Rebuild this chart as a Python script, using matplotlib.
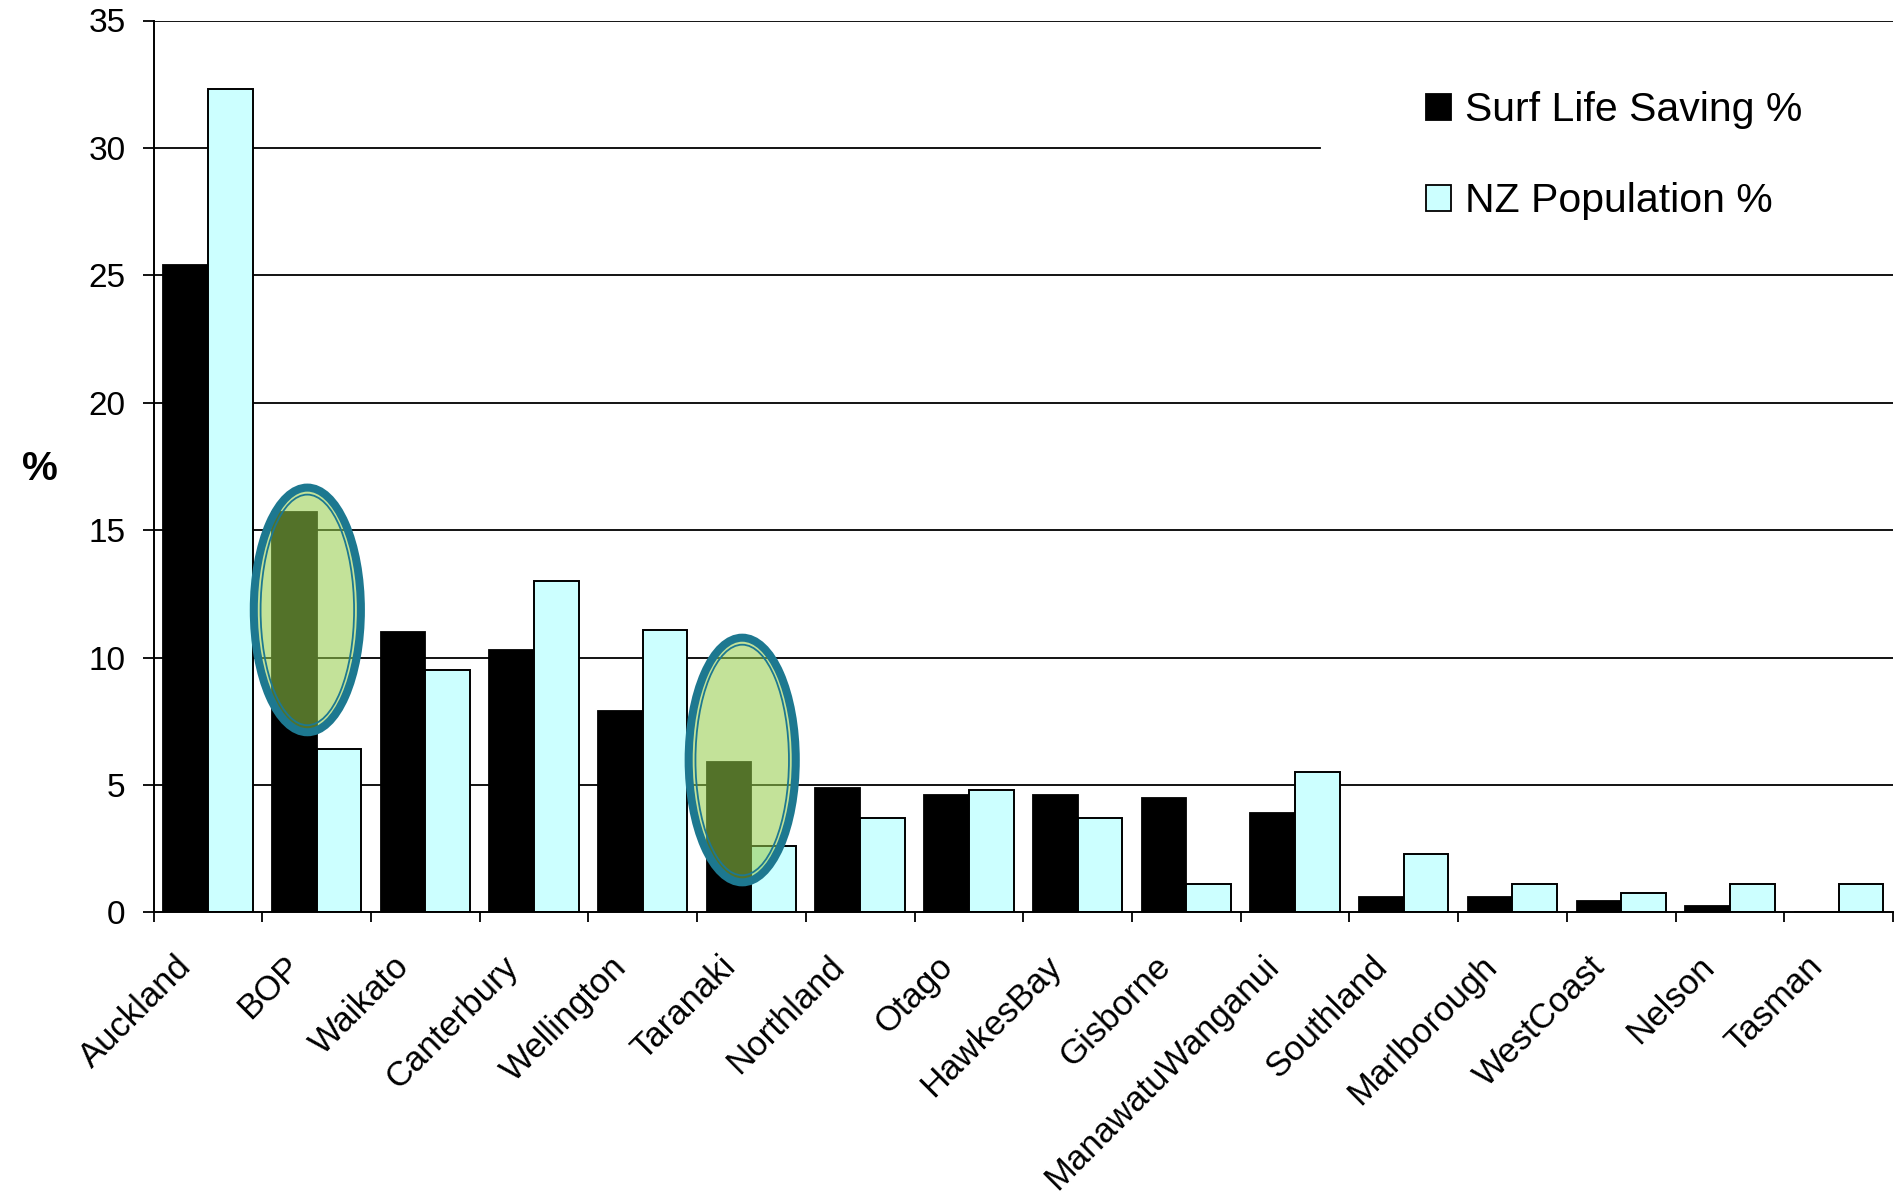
import matplotlib
matplotlib.use("Agg")
import matplotlib.pyplot as plt
import numpy as np
from matplotlib.patches import Ellipse, Patch
from matplotlib.transforms import ScaledTranslation

plt.rcParams['font.family'] = ['Liberation Sans', 'DejaVu Sans']

# ---- data -------------------------------------------------------------
regions = ['Auckland', 'BOP', 'Waikato', 'Canterbury', 'Wellington',
           'Taranaki', 'Northland', 'Otago', 'HawkesBay', 'Gisborne',
           'ManawatuWanganui', 'Southland', 'Marlborough', 'WestCoast',
           'Nelson', 'Tasman']
surf_life_saving = [25.4, 15.7, 11.0, 10.3, 7.9, 5.9, 4.9, 4.6, 4.6, 4.5,
                    3.9, 0.6, 0.6, 0.45, 0.25, 0.0]
nz_population = [32.3, 6.4, 9.5, 13.0, 11.1, 2.6, 3.7, 4.8, 3.7, 1.1,
                 5.5, 2.3, 1.1, 0.75, 1.1, 1.1]
y_ticks = [0, 5, 10, 15, 20, 25, 30, 35]
highlighted = ['BOP', 'Taranaki']
series_names = ['Surf Life Saving %', 'NZ Population %']

# ---- figure -----------------------------------------------------------
W, H, DPI = 1895, 1196, 100
fig = plt.figure(figsize=(W / DPI, H / DPI), dpi=DPI)
ax_left, ax_right, ax_bottom, ax_top = 153.5, 1893, 912.4, 20.5
ax = fig.add_axes([ax_left / W, 1 - ax_bottom / H,
                   (ax_right - ax_left) / W, (ax_bottom - ax_top) / H])

x = np.arange(len(regions))
bar_w = 0.411
ax.bar(x - bar_w / 2, surf_life_saving, width=bar_w, color='black',
       edgecolor='black', linewidth=1.3, zorder=3)
ax.bar(x + bar_w / 2, nz_population, width=bar_w, color='#CCFFFF',
       edgecolor='black', linewidth=1.4, zorder=3)

ax.set_xlim(-0.5, len(regions) - 0.5)
ax.set_ylim(0, 35)

# horizontal gridlines; the 30 line stops short of the legend
legend_gap = (1320 - ax_left) / (ax_right - ax_left)
for yv in y_ticks[1:]:
    ax.axhline(yv, xmin=0, xmax=legend_gap if yv == 30 else 1,
               color='black', linewidth=1.3, zorder=1)

# spines
for side in ['top', 'right']:
    ax.spines[side].set_visible(False)
for side in ['left', 'bottom']:
    ax.spines[side].set_linewidth(1.4)
    ax.spines[side].set_zorder(4)

# y axis
ax.set_yticks(y_ticks)
ax.tick_params(axis='y', direction='out', length=8, width=1.3, pad=12,
               labelsize=24)
ax.set_ylabel('%', rotation=0, fontsize=29, fontweight='bold',
              ha='center', va='center')
ax.yaxis.set_label_coords((40 - ax_left) / (ax_right - ax_left),
                          (ax_bottom - 469) / (ax_bottom - ax_top))

# x axis: category labels at centres, tick marks at boundaries
ax.set_xticks(x)
ax.set_xticklabels(regions, rotation=45, ha='right', va='top',
                   rotation_mode='anchor', fontsize=25)
ax.tick_params(axis='x', which='major', length=0, pad=27)
ax.set_xticks(np.arange(-0.5, len(regions)), minor=True)
ax.tick_params(axis='x', which='minor', direction='out', length=7.5,
               width=1.3)
shift = ScaledTranslation(-33 / DPI, 0, fig.dpi_scale_trans)
for lbl in ax.get_xticklabels():
    lbl.set_transform(lbl.get_transform() + shift)

# highlight ellipses around selected regions
ell_fill = (149 / 255, 204 / 255, 74 / 255, 0.56)
ell_edge = '#1d7890'
ell_centres = {'BOP': 11.87, 'Taranaki': 5.98}
for name in highlighted:
    i = regions.index(name)
    cx, cy = i - 0.085, ell_centres[name]
    ax.add_patch(Ellipse((cx, cy), 0.985, 9.6, facecolor=ell_fill,
                         edgecolor=ell_edge, linewidth=5.8, zorder=5))
    ax.add_patch(Ellipse((cx, cy), 0.86, 9.05, facecolor='none',
                         edgecolor=ell_edge, linewidth=1.3, zorder=5))

# legend
handles = [Patch(facecolor='black', edgecolor='black', linewidth=1.3),
           Patch(facecolor='#CCFFFF', edgecolor='black', linewidth=1.3)]
fig.legend(handles, series_names, loc='upper left',
           bbox_to_anchor=(1426 / W, 1 - 91 / H), frameon=False,
           fontsize=29.5, handlelength=0.6, handleheight=0.6,
           handletextpad=0.34, labelspacing=1.3, borderpad=0,
           borderaxespad=0)

fig.savefig('out.png', dpi=DPI)
